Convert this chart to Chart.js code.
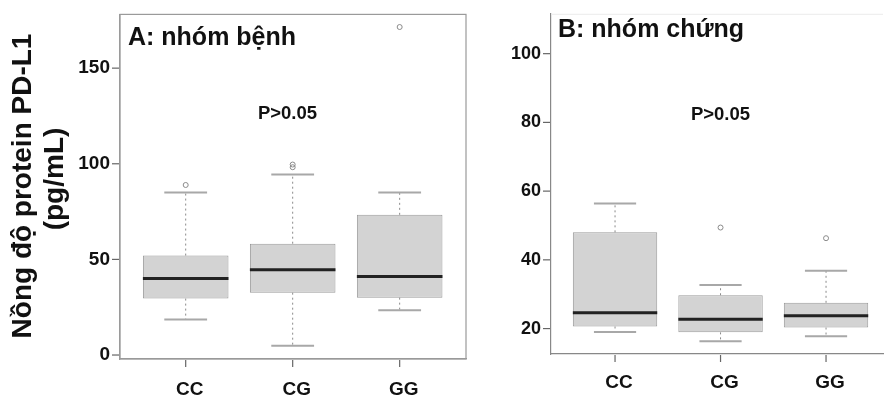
<!DOCTYPE html>
<html>
<head>
<meta charset="utf-8">
<script src="https://cdn.jsdelivr.net/npm/chart.js@4.4.1/dist/chart.umd.min.js"></script>
<style>
  html, body { margin: 0; padding: 0; background: #fff; }
  body { width: 888px; height: 396px; position: relative; overflow: hidden; }
  .wrap { position: absolute; top: 0; height: 396px; }
  #wa { left: 0; width: 480px; }
  #wb { left: 480px; width: 408px; }
</style>
</head>
<body>
<div class="wrap" id="wa"><canvas id="ca"></canvas></div>
<div class="wrap" id="wb"><canvas id="cb"></canvas></div>
<script>
// ---- data ----
const categories = ['CC', 'CG', 'GG'];

// Panel A: nhóm bệnh
const aLowerWhisker = [18.6, 4.9, 23.4];
const aQ1           = [29.5, 32.6, 30.0];
const aMedian       = [40.0, 44.6, 41.0];
const aQ3           = [52.0, 58.2, 73.3];
const aUpperWhisker = [85.0, 94.4, 85.0];
const aOutliers     = [[88.9], [98.2, 99.6], [171.5]];
const aYTicks       = [0, 50, 100, 150];

// Panel B: nhóm chứng
const bLowerWhisker = [19.0, 16.3, 17.8];
const bQ1           = [20.6, 18.9, 20.3];
const bMedian       = [24.6, 22.7, 23.7];
const bQ3           = [48.0, 29.7, 27.5];
const bUpperWhisker = [56.4, 32.7, 36.8];
const bOutliers     = [[], [49.4], [46.3]];
const bYTicks       = [20, 40, 60, 80, 100];

const yTitle1 = 'Nồng độ protein PD-L1';
const yTitle2 = '(pg/mL)';
const titleA = 'A: nhóm bệnh';
const titleB = 'B: nhóm chứng';
const pText = 'P>0.05';

const FONT = '"Liberation Sans", Arial, Helvetica, sans-serif';
const TICK_LEN = 7;

function buildDatasets(lo, q1, med, q3, hi, outl) {
  const boxes = categories.map((c, i) => ({ x: i + 1, y: [q1[i], q3[i]] }));
  const whisk = [];
  const caps = [];
  const meds = [];
  const outs = [];
  categories.forEach((c, i) => {
    const x = i + 1;
    whisk.push({ x: x, y: q3[i] }, { x: x, y: hi[i] }, { x: x, y: null },
               { x: x, y: q1[i] }, { x: x, y: lo[i] }, { x: x, y: null });
    caps.push({ x: x - 0.2, y: hi[i] }, { x: x + 0.2, y: hi[i] }, { x: x + 0.2, y: null },
              { x: x - 0.2, y: lo[i] }, { x: x + 0.2, y: lo[i] }, { x: x + 0.2, y: null });
    meds.push({ x: x - 0.4, y: med[i] }, { x: x + 0.4, y: med[i] }, { x: x + 0.4, y: null });
    outl[i].forEach(v => outs.push({ x: x, y: v }));
  });
  return [
    { type: 'bar', data: boxes, backgroundColor: '#d3d3d3', borderColor: '#9a9a9a',
      borderWidth: 1, borderSkipped: false, barPercentage: 0.8, categoryPercentage: 1, order: 5 },
    { type: 'line', data: whisk, borderColor: '#8a8a8a', borderWidth: 1, borderDash: [2, 3],
      pointRadius: 0, spanGaps: false, fill: false, order: 4 },
    { type: 'line', data: caps, borderColor: '#a8a8a8', borderWidth: 2,
      pointRadius: 0, spanGaps: false, fill: false, order: 3 },
    { type: 'line', data: meds, borderColor: '#222222', borderWidth: 3,
      pointRadius: 0, spanGaps: false, fill: false, order: 1 },
    { type: 'scatter', data: outs, pointStyle: 'circle', pointRadius: 2.5, borderWidth: 1,
      borderColor: '#8a8a8a', backgroundColor: 'rgba(255,255,255,0)', order: 0 }
  ];
}

const hiddenGrid = {
  display: true, offset: false, drawOnChartArea: false, drawTicks: true,
  tickLength: TICK_LEN, color: 'rgba(0,0,0,0)', tickColor: 'rgba(0,0,0,0)'
};

function makeOptions(cfg) {
  return {
    responsive: false,
    animation: false,
    events: [],
    layout: { padding: { top: cfg.padTop, right: cfg.padRight, left: 0, bottom: 0 } },
    plugins: { legend: { display: false }, tooltip: { enabled: false } },
    scales: {
      x: {
        type: 'linear', min: cfg.xMin, max: cfg.xMax, offset: false,
        afterBuildTicks: s => { s.ticks = categories.map((c, i) => ({ value: i + 1 })); },
        afterFit: s => { s.height = cfg.xHeight; },
        ticks: {
          callback: v => categories[Math.round(v) - 1] || '',
          font: { family: FONT, size: 19, weight: 'bold' }, color: '#111',
          padding: cfg.xPad, labelOffset: 4, maxRotation: 0, autoSkip: false
        },
        grid: hiddenGrid,
        border: { display: true, color: cfg.axisColor, width: 1.2 }
      },
      y: {
        type: 'linear', min: cfg.yMin, max: cfg.yMax,
        afterBuildTicks: s => { s.ticks = cfg.yTicks.map(v => ({ value: v })); },
        afterFit: s => { s.width = cfg.yWidth; },
        ticks: {
          font: { family: FONT, size: cfg.yFont, weight: 'bold' }, color: '#111',
          padding: 3, autoSkip: false
        },
        grid: hiddenGrid,
        border: { display: true, color: cfg.axisColor, width: 1.2 }
      }
    }
  };
}

const textPlugin = (items, frame) => ({
  id: 'texts',
  afterDraw(chart) {
    const ctx = chart.ctx;
    const a = chart.chartArea;
    const xs = chart.scales.x;
    const ys = chart.scales.y;
    ctx.save();
    ctx.setLineDash([]);
    if (frame === 'box') {
      ctx.strokeStyle = '#9a9a9a';
      ctx.lineWidth = 1.2;
      ctx.strokeRect(a.left, a.top, a.right - a.left, a.bottom - a.top);
    } else if (frame === 'top') {
      ctx.strokeStyle = '#ececec';
      ctx.lineWidth = 1;
      ctx.beginPath();
      ctx.moveTo(a.left, a.top + 0.5);
      ctx.lineTo(a.right, a.top + 0.5);
      ctx.stroke();
    }
    // tick marks, placed through the scales
    ctx.strokeStyle = '#666666';
    ctx.lineWidth = 1.2;
    categories.forEach((c, i) => {
      const px = xs.getPixelForValue(i + 1);
      ctx.beginPath();
      ctx.moveTo(px, a.bottom + 1);
      ctx.lineTo(px, a.bottom + 1 + TICK_LEN);
      ctx.stroke();
    });
    ys.ticks.forEach(t => {
      const py = ys.getPixelForValue(t.value);
      ctx.beginPath();
      ctx.moveTo(a.left - 1, py);
      ctx.lineTo(a.left - 1 - TICK_LEN, py);
      ctx.stroke();
    });
    items.forEach(t => {
      ctx.save();
      ctx.fillStyle = '#111';
      ctx.font = 'bold ' + t.size + 'px ' + FONT;
      ctx.textAlign = t.align;
      ctx.textBaseline = 'alphabetic';
      ctx.translate(t.x, t.y);
      if (t.rot) ctx.rotate(-Math.PI / 2);
      ctx.fillText(t.text, 0, 0);
      ctx.restore();
    });
    ctx.restore();
  }
});

function setup(canvas, w, h) {
  canvas.width = w; canvas.height = h;
  canvas.style.width = w + 'px'; canvas.style.height = h + 'px';
}

const ca = document.getElementById('ca');
setup(ca, 480, 396);
new Chart(ca, {
  type: 'bar',
  data: { datasets: buildDatasets(aLowerWhisker, aQ1, aMedian, aQ3, aUpperWhisker, aOutliers) },
  options: makeOptions({
    padTop: 13, padRight: 14, xMin: 0.386, xMax: 3.62, yMin: -2.08, yMax: 178.1,
    xHeight: 37, yWidth: 120, yTicks: aYTicks, yFont: 19, xPad: 12, axisColor: '#9a9a9a'
  }),
  plugins: [textPlugin([
    { text: yTitle1, x: 31, y: 186, size: 28, align: 'center', rot: true },
    { text: yTitle2, x: 63, y: 179, size: 28, align: 'center', rot: true },
    { text: titleA, x: 128, y: 45, size: 25, align: 'left' },
    { text: pText, x: 287.5, y: 119, size: 18.5, align: 'center' }
  ], 'box')]
});

const cb = document.getElementById('cb');
setup(cb, 408, 396);
new Chart(cb, {
  type: 'bar',
  data: { datasets: buildDatasets(bLowerWhisker, bQ1, bMedian, bQ3, bUpperWhisker, bOutliers) },
  options: makeOptions({
    padTop: 10, padRight: 0, xMin: 0.393, xMax: 3.54, yMin: 12.6, yMax: 111.6,
    xHeight: 42, yWidth: 71, yTicks: bYTicks, yFont: 18, xPad: 10, axisColor: '#888'
  }),
  plugins: [textPlugin([
    { text: titleB, x: 78, y: 37, size: 25, align: 'left' },
    { text: pText, x: 240.5, y: 120, size: 18.5, align: 'center' }
  ], 'top')]
});
</script>
</body>
</html>
